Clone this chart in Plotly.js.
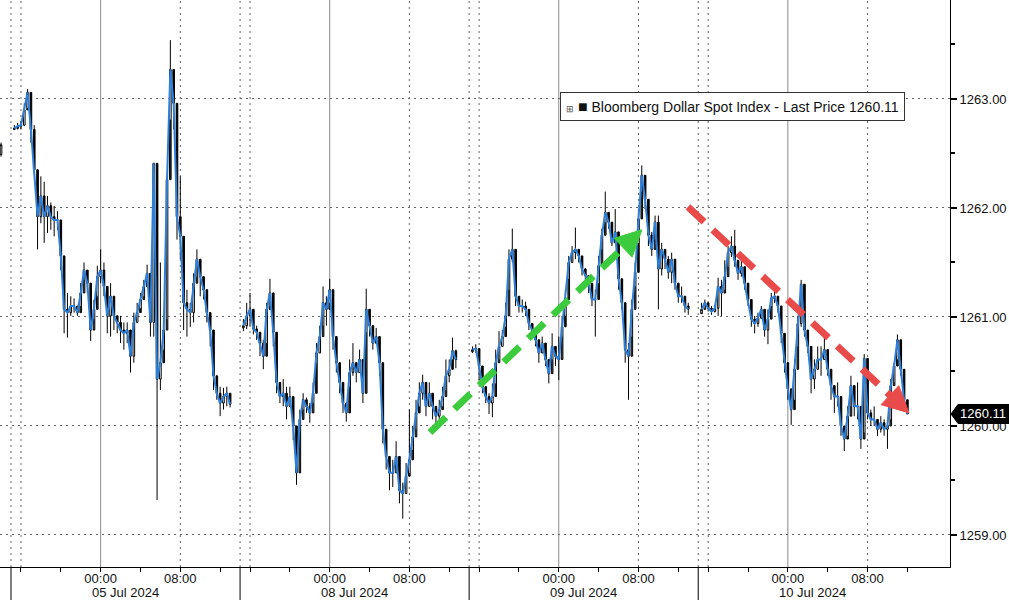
<!DOCTYPE html>
<html><head><meta charset="utf-8">
<script src="https://cdn.plot.ly/plotly-3.0.1.min.js"></script>
<style>html,body{margin:0;padding:0;background:#fff}#chart{width:1009px;height:600px}</style>
</head><body><div id="chart"></div>
<script>
// ---- DATA: Bloomberg Dollar Spot Index, 20-minute bars, four sessions (each session starts 15:00 the day before) ----
const sessionLabels = ['05 Jul 2024', '08 Jul 2024', '09 Jul 2024', '10 Jul 2024'];
const sessionOpens = [1262.72, 1260.90, 1260.68, 1261.03];
const lastPrice = 1260.11;
const seriesName = 'Bloomberg Dollar Spot Index - Last Price';

const priorOpen = [1262.49], priorHigh = [1262.60], priorLow = [1262.47], priorClose = [1262.58];

const s1Close = [1262.73,1262.75,1262.76,1262.90,1263.06,1262.72,1262.35,1261.92,1262.11,1261.92,
 1262.02,1261.92,1261.89,1261.89,1261.56,1261.07,1261.04,1261.10,1261.10,1261.04,
 1261.22,1261.43,1261.31,1260.88,1261.07,1261.37,1261.43,1261.28,1261.01,1261.19,
 1261.01,1260.95,1260.88,1260.85,1260.88,1260.64,1260.95,1261.04,1261.16,1261.28,
 1261.40,1260.95,1262.41,1260.43,1260.58,1260.88,1262.26,1263.27,1262.96,1261.92,
 1261.74,1261.13,1261.07,1261.04,1261.31,1261.53,1261.37,1261.25,1261.04,1260.88,
 1260.46,1260.30,1260.21,1260.27,1260.30,1260.20];
const s1High = [1262.76,1262.78,1262.80,1262.96,1263.09,1262.98,1262.76,1262.11,1262.29,1262.24,
 1262.11,1262.05,1262.02,1261.97,1261.80,1261.43,1261.22,1261.19,1261.17,1261.10,
 1261.31,1261.50,1261.40,1261.13,1261.16,1261.47,1261.62,1261.50,1261.19,1261.31,
 1261.13,1261.01,1261.01,1260.95,1260.95,1260.88,1261.04,1261.13,1261.22,1261.34,
 1261.48,1261.37,1262.41,1261.37,1261.50,1261.01,1262.29,1263.54,1263.06,1262.41,
 1262.29,1261.56,1261.25,1261.13,1261.40,1261.62,1261.50,1261.37,1261.13,1261.01,
 1260.73,1260.43,1260.36,1260.35,1260.36,1260.30];
const s1Low = [1262.72,1262.72,1262.72,1262.75,1262.92,1262.60,1262.32,1261.62,1261.86,1261.68,
 1261.77,1261.80,1261.74,1261.80,1261.43,1260.85,1260.81,1261.01,1261.04,1261.01,
 1261.10,1261.34,1261.22,1260.78,1260.98,1261.19,1261.31,1261.19,1260.85,1260.82,
 1260.88,1260.85,1260.76,1260.70,1260.76,1260.49,1260.58,1260.95,1261.08,1261.19,
 1261.31,1260.82,1260.82,1259.32,1260.33,1260.70,1260.98,1262.81,1262.72,1261.71,
 1261.53,1260.88,1260.82,1260.91,1260.95,1261.37,1261.19,1261.16,1260.95,1260.73,
 1260.33,1260.24,1260.09,1260.15,1260.18,1260.17];

const s2Close = [1260.92,1261.01,1261.07,1260.89,1260.86,1260.76,1260.64,1261.07,1261.22,1260.86,
 1260.40,1260.27,1260.30,1260.18,1260.27,1260.00,1259.57,1260.06,1260.24,1260.18,
 1260.12,1260.30,1260.67,1260.82,1261.13,1261.07,1261.25,1260.82,1260.58,1260.40,
 1260.21,1260.12,1260.49,1260.58,1260.49,1260.61,1260.30,1261.07,1260.92,1260.76,
 1260.82,1260.58,1259.97,1259.72,1259.57,1259.57,1259.72,1259.41,1259.38,1259.54,
 1259.69,1259.90,1260.12,1260.30,1260.40,1260.18,1260.30,1260.18,1260.09,1260.15,
 1260.27,1260.46,1260.52,1260.69,1260.61];
const s2High = [1260.98,1261.13,1261.22,1260.95,1260.92,1260.86,1260.79,1261.13,1261.35,1261.07,
 1260.49,1260.40,1260.43,1260.36,1260.36,1260.15,1259.72,1260.15,1260.30,1260.26,
 1260.21,1260.40,1260.76,1260.92,1261.28,1261.19,1261.35,1260.98,1260.67,1260.52,
 1260.30,1260.21,1260.61,1260.76,1260.58,1260.70,1260.43,1261.26,1260.99,1260.86,
 1260.90,1260.73,1260.18,1259.87,1259.72,1259.69,1259.86,1259.57,1259.48,1259.66,
 1260.15,1260.00,1260.24,1260.40,1260.47,1260.27,1260.40,1260.30,1260.18,1260.24,
 1260.36,1260.61,1260.61,1260.81,1260.70];
const s2Low = [1260.87,1260.89,1260.92,1260.84,1260.79,1260.64,1260.52,1260.76,1261.10,1260.73,
 1260.30,1260.21,1260.18,1260.06,1260.18,1259.87,1259.46,1259.94,1260.15,1260.12,
 1260.03,1260.21,1260.58,1260.67,1260.92,1260.92,1261.13,1260.70,1260.49,1260.30,
 1260.12,1260.04,1260.36,1260.46,1260.40,1260.49,1260.21,1260.86,1260.82,1260.70,
 1260.75,1260.46,1259.84,1259.60,1259.41,1259.44,1259.57,1259.29,1259.15,1259.38,
 1259.57,1259.78,1259.97,1260.18,1260.24,1260.09,1260.18,1260.06,1260.01,1260.06,
 1260.18,1260.33,1260.40,1260.61,1260.53];

const s3Close = [1260.70,1260.71,1260.55,1260.36,1260.27,1260.21,1260.27,1260.58,1260.73,1260.82,
 1261.01,1261.53,1261.62,1261.19,1261.10,1261.10,1261.07,1260.94,1260.88,1260.79,
 1260.67,1260.76,1260.61,1260.48,1260.73,1260.64,1260.61,1260.91,1261.16,1261.50,
 1261.59,1261.62,1261.56,1261.44,1261.38,1261.31,1261.16,1261.16,1261.47,1261.75,
 1261.96,1261.87,1261.68,1261.78,1261.35,1261.13,1260.70,1260.64,1261.07,1261.41,
 1261.90,1262.30,1262.08,1261.75,1261.62,1261.87,1261.44,1261.62,1261.53,1261.41,
 1261.53,1261.31,1261.19,1261.19,1261.10,1261.07];
const s3High = [1260.73,1260.75,1260.70,1260.42,1260.33,1260.30,1260.39,1260.70,1260.87,1260.88,
 1261.13,1261.62,1261.81,1261.38,1261.19,1261.16,1261.14,1261.04,1260.94,1260.85,
 1260.73,1260.82,1260.73,1260.58,1260.85,1260.73,1260.82,1261.01,1261.25,1261.56,
 1261.65,1261.82,1261.62,1261.50,1261.45,1261.38,1261.25,1261.25,1261.56,1261.81,
 1262.15,1261.96,1261.78,1261.99,1261.50,1261.25,1260.88,1260.76,1261.16,1261.50,
 1261.99,1262.39,1262.24,1261.93,1261.78,1261.93,1261.93,1261.68,1261.62,1261.56,
 1261.59,1261.50,1261.31,1261.28,1261.19,1261.13];
const s3Low = [1260.67,1260.67,1260.42,1260.30,1260.21,1260.11,1260.08,1260.39,1260.61,1260.73,
 1260.91,1261.25,1261.50,1261.10,1261.04,1261.04,1261.01,1260.88,1260.82,1260.73,
 1260.58,1260.67,1260.55,1260.39,1260.61,1260.55,1260.42,1260.82,1261.01,1261.35,
 1261.50,1261.53,1261.50,1261.38,1261.31,1261.22,1261.10,1260.82,1261.31,1261.62,
 1261.87,1261.81,1261.65,1261.68,1261.25,1261.07,1260.58,1260.24,1260.82,1261.28,
 1261.68,1262.15,1261.99,1261.65,1261.56,1261.71,1261.07,1261.38,1261.44,1261.35,
 1261.31,1261.25,1261.13,1261.13,1261.04,1261.02];

const s4Close = [1261.07,1261.13,1261.08,1261.05,1261.08,1261.28,1261.22,1261.37,1261.59,1261.65,
 1261.52,1261.40,1261.46,1261.31,1261.16,1260.98,1260.94,1260.99,1261.07,1260.88,
 1260.98,1261.17,1261.19,1261.10,1260.85,1260.58,1260.34,1260.15,1260.52,1260.94,
 1261.30,1260.88,1260.73,1260.43,1260.52,1260.61,1260.61,1260.70,1260.52,1260.37,
 1260.27,1260.27,1260.00,1259.88,1260.09,1260.37,1260.18,1260.18,1259.88,1260.62,
 1260.12,1260.06,1260.06,1259.97,1260.03,1259.97,1260.00,1260.37,1260.55,1260.79,
 1260.52,1260.24,1260.11];
const s4High = [1261.13,1261.16,1261.13,1261.10,1261.11,1261.36,1261.34,1261.52,1261.65,1261.74,
 1261.80,1261.52,1261.55,1261.40,1261.22,1261.04,1261.01,1261.04,1261.10,1260.98,
 1261.07,1261.22,1261.23,1261.16,1260.98,1260.73,1260.46,1260.27,1260.61,1261.01,
 1261.34,1260.98,1260.82,1260.61,1260.61,1260.73,1260.73,1260.84,1260.61,1260.52,
 1260.37,1260.40,1260.21,1260.00,1260.18,1260.46,1260.30,1260.40,1260.06,1260.66,
 1260.37,1260.15,1260.18,1260.06,1260.09,1260.06,1260.06,1260.43,1260.58,1260.84,
 1260.76,1260.49,1260.24];
const s4Low = [1261.04,1261.08,1261.05,1261.02,1261.04,1261.01,1261.01,1261.25,1261.46,1261.55,
 1261.46,1261.34,1261.37,1261.25,1261.10,1260.91,1260.85,1260.91,1260.98,1260.82,
 1260.75,1261.10,1261.13,1261.04,1260.76,1260.49,1260.24,1260.01,1260.24,1260.73,
 1260.91,1260.82,1260.67,1260.30,1260.34,1260.52,1260.46,1260.61,1260.46,1260.24,
 1260.12,1260.18,1259.91,1259.77,1259.91,1260.18,1260.09,1260.06,1259.79,1259.94,
 1260.06,1260.00,1260.00,1259.91,1259.94,1259.91,1259.79,1260.06,1260.40,1260.61,
 1260.46,1260.18,1260.11];

// axis tick hours inside each session (hours since 15:00)
const tickHours = [1, 5, 9, 13, 17, 21];
const tickText  = ['', '', '00:00', '', '08:00', ''];

// ---- LAYOUT CONSTANTS ----
const W = 1009, H = 600;
const margin = {l: 0, r: 59, t: 0, b: 33, pad: 0};
const plotW = W - margin.l - margin.r, plotH = H - margin.t - margin.b;
const sessionHours = 23, barsPerHour = 3;
const xRange = [-1.104, 94.28];
const yRange = [1258.706, 1263.908];
const pxPerX = plotW / (xRange[1] - xRange[0]);
const pxPerY = plotH / (yRange[1] - yRange[0]);
const FONT = 'Liberation Sans, Arial, sans-serif';

// trend arrows (decoration, data coordinates of tail and tip)
const trendArrows = [
  {x0: 42.07, y0: 1259.94, x1: 63.35, y1: 1261.80, color: '#3ccb3c'},
  {x0: 67.97, y0: 1262.01, x1: 90.16, y1: 1260.12, color: '#e94b4b'}
];

// ---- BUILD TRACES ----
const sessions = [
  {c: s1Close, h: s1High, l: s1Low},
  {c: s2Close, h: s2High, l: s2Low},
  {c: s3Close, h: s3High, l: s3Low},
  {c: s4Close, h: s4High, l: s4Low}
];
const cx = [], co = [], ch = [], cl = [], cc = [];
const lx = [], ly = [];
cx.push(-1); co.push(priorOpen[0]); ch.push(priorHigh[0]); cl.push(priorLow[0]); cc.push(priorClose[0]);
sessions.forEach((s, si) => {
  s.c.forEach((v, i) => {
    const x = si * sessionHours + (i + 1) / barsPerHour;
    const open = i === 0 ? sessionOpens[si] : s.c[i - 1];
    cx.push(x); co.push(open); ch.push(s.h[i]); cl.push(s.l[i]); cc.push(v);
    lx.push(x); ly.push(v);
  });
  lx.push(null); ly.push(null);
});

const traces = [
  {type: 'candlestick', x: cx, open: co, high: ch, low: cl, close: cc,
   increasing: {line: {color: '#000', width: 1}, fillcolor: '#ffffff'},
   decreasing: {line: {color: '#000', width: 1}, fillcolor: '#000000'},
   whiskerwidth: 0, hoverinfo: 'skip', showlegend: false, name: seriesName},
  {type: 'scatter', mode: 'lines', x: lx, y: ly, connectgaps: false,
   line: {color: '#2d7fd8', width: 2}, hoverinfo: 'skip', showlegend: false, name: seriesName}
];

// ---- SHAPES ----
const shapes = [];
const tickvals = [], ticktext = [];
for (let s = 0; s < 4; s++) {
  const b = s * sessionHours;
  tickHours.forEach((t, i) => { tickvals.push(b + t); ticktext.push(tickText[i]); });
  [0, 1, 17].forEach(o => shapes.push({type: 'line', layer: 'below', xref: 'x', yref: 'paper',
    x0: b + o, x1: b + o, y0: 0, y1: 1, line: {color: '#666', width: 1, dash: '2px,4px'}}));
  shapes.push({type: 'line', layer: 'below', xref: 'x', yref: 'paper',
    x0: b + 9, x1: b + 9, y0: 0, y1: 1, line: {color: '#8a8a8a', width: 1}});
  shapes.push({type: 'line', layer: 'above', xref: 'x', yref: 'paper',
    x0: b, x1: b, y0: 0, y1: -margin.b / plotH, line: {color: '#000', width: 1}});
}

trendArrows.forEach(a => {
  const dxp = (a.x1 - a.x0) * pxPerX, dyp = -(a.y1 - a.y0) * pxPerY;
  const len = Math.hypot(dxp, dyp), ux = dxp / len, uy = dyp / len;
  const L = 26, Hw = 13;
  const bx = a.x1 - L * ux / pxPerX, by = a.y1 + L * uy / pxPerY;
  const c1x = bx + (-uy) * Hw / pxPerX, c1y = by - ux * Hw / pxPerY;
  const c2x = bx - (-uy) * Hw / pxPerX, c2y = by + ux * Hw / pxPerY;
  shapes.push({type: 'line', layer: 'above', xref: 'x', yref: 'y', x0: a.x0, y0: a.y0, x1: bx, y1: by,
    line: {color: a.color, width: 7, dash: '22px,12px'}});
  shapes.push({type: 'path', layer: 'above', xref: 'x', yref: 'y',
    path: `M ${a.x1} ${a.y1} L ${c1x} ${c1y} L ${c2x} ${c2y} Z`,
    fillcolor: a.color, line: {color: a.color, width: 1}});
});

const tagHalf = 9.5 / pxPerY;
const px2paper = p => p / plotW;
shapes.push({type: 'path', layer: 'above', xref: 'paper', yref: 'y',
  path: `M ${px2paper(951)} ${lastPrice} L ${px2paper(958)} ${lastPrice + tagHalf} L ${px2paper(1009)} ${lastPrice + tagHalf} L ${px2paper(1009)} ${lastPrice - tagHalf} L ${px2paper(958)} ${lastPrice - tagHalf} Z`,
  fillcolor: '#000', line: {color: '#000', width: 1}});

// ---- ANNOTATIONS ----
const annotations = [];
sessionLabels.forEach((lab, s) => annotations.push({
  xref: 'x', yref: 'paper', x: s * sessionHours + sessionHours / 2, y: -(593 - plotH) / plotH,
  text: lab, showarrow: false, xanchor: 'center', yanchor: 'middle',
  font: {family: FONT, size: 13, color: '#111'}
}));
annotations.push({xref: 'paper', yref: 'y', x: px2paper(983), y: lastPrice, text: lastPrice.toFixed(2),
  showarrow: false, xanchor: 'center', yanchor: 'middle', font: {family: FONT, size: 13, color: '#fff'}});
annotations.push({xref: 'paper', yref: 'paper', x: px2paper(732.5), y: 1 - 106.5 / plotH,
  xanchor: 'center', yanchor: 'middle', showarrow: false,
  text: '<span style="font-size:9px;color:#555">⊞</span> <span style="font-size:16px">■</span> ' + seriesName + ' ' + lastPrice.toFixed(2),
  font: {family: FONT, size: 14, color: '#111'}, bgcolor: '#fff', bordercolor: '#333', borderwidth: 1, borderpad: 5});

const layout = {
  width: W, height: H, margin: margin, paper_bgcolor: '#fff', plot_bgcolor: '#fff',
  showlegend: false, dragmode: false, hovermode: false,
  font: {family: FONT, size: 13, color: '#111'},
  xaxis: {range: xRange, type: 'linear', tickmode: 'array', tickvals: tickvals, ticktext: ticktext,
    ticks: 'outside', ticklen: 4, tickcolor: '#000', tickwidth: 1, showline: true, linecolor: '#000', linewidth: 1,
    showgrid: false, zeroline: false, rangeslider: {visible: false}, fixedrange: true, ticklabelstandoff: -5,
    tickfont: {family: FONT, size: 13, color: '#111'}},
  yaxis: {range: yRange, side: 'right', tickmode: 'linear', tick0: 1259, dtick: 1, tickformat: '.2f',
    ticks: 'outside', ticklen: 6, tickwidth: 2, tickcolor: '#000', showline: true, linecolor: '#000', linewidth: 1,
    showgrid: true, gridcolor: '#666', gridwidth: 1, griddash: '2px,4px', zeroline: false, fixedrange: true,
    minor: {dtick: 0.5, tick0: 1259, ticks: 'outside', ticklen: 4, tickcolor: '#000', showgrid: false},
    tickfont: {family: FONT, size: 13, color: '#111'}},
  shapes: shapes, annotations: annotations
};

Plotly.newPlot('chart', traces, layout, {displayModeBar: false, staticPlot: true});
</script></body></html>
